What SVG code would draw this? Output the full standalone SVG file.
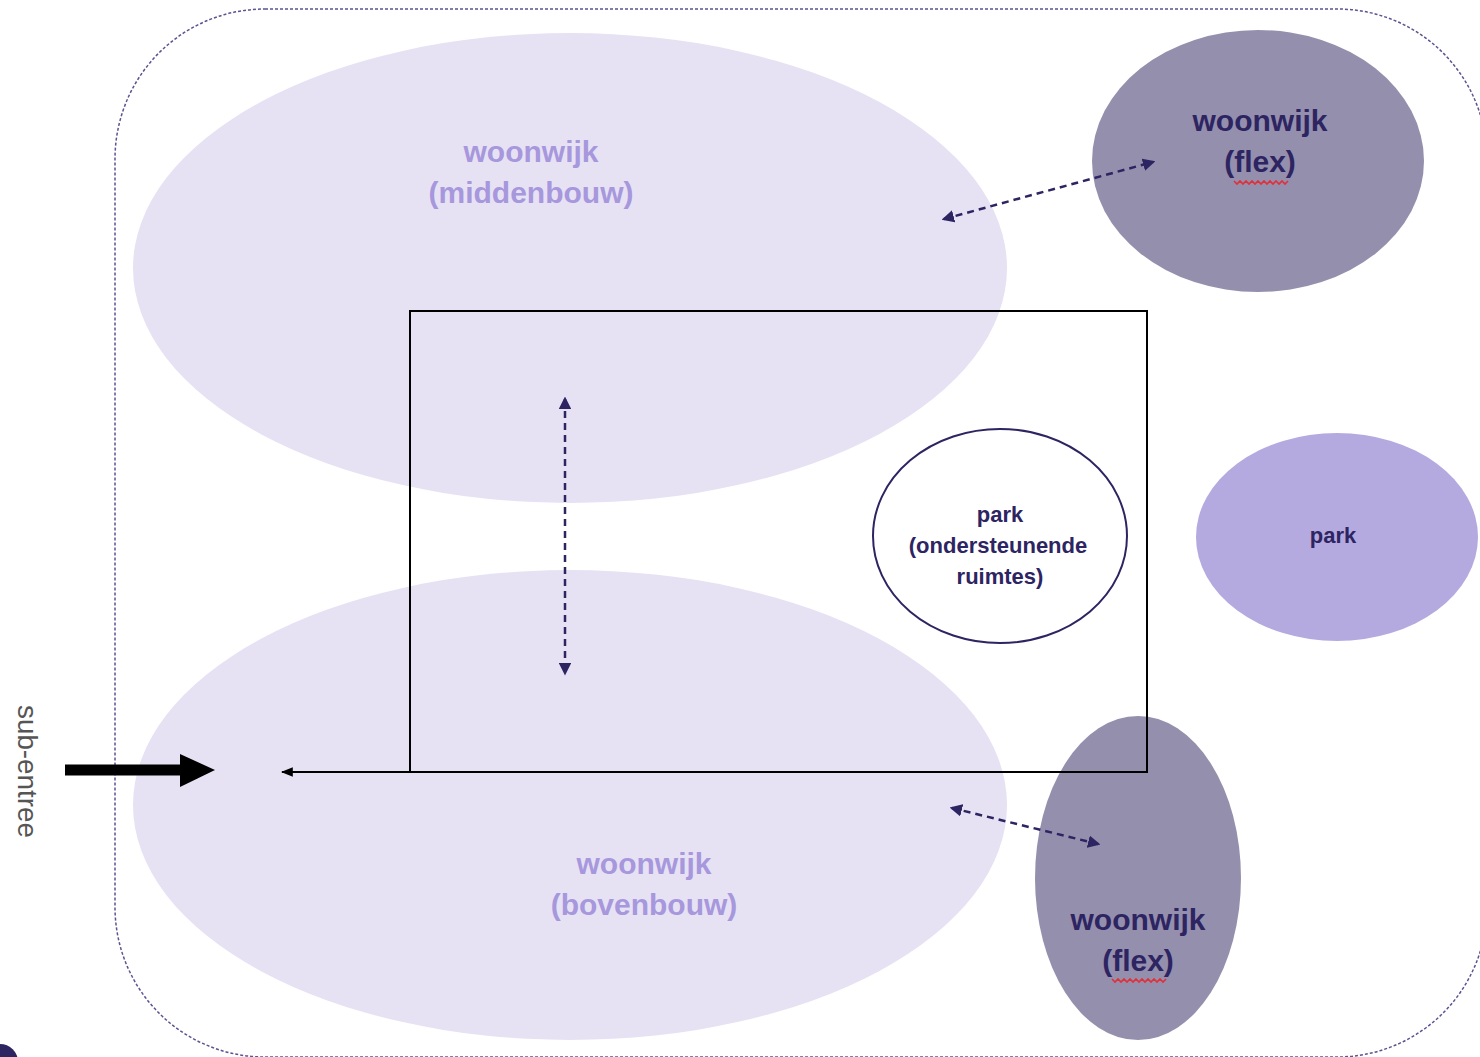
<svg xmlns="http://www.w3.org/2000/svg" width="1480" height="1057" viewBox="0 0 1480 1057">
<style>
.lbl{font-family:"Liberation Sans",Arial,sans-serif;font-weight:bold;text-anchor:middle}
.light{fill:#a797dc;font-size:30px}
.dark{fill:#2d2462;font-size:30px}
.small{fill:#2d2462;font-size:22px}
.dash{fill:none;stroke:#2d2462;stroke-width:2.5;stroke-dasharray:7 5;marker-start:url(#ah);marker-end:url(#ah)}
.squig{fill:none;stroke:#e0303a;stroke-width:1.6}
</style>
<defs>
<marker id="ah" viewBox="0 0 10 10" refX="8" refY="5" markerWidth="5" markerHeight="5" orient="auto-start-reverse" markerUnits="strokeWidth">
<path d="M0,0 L10,5 L0,10 Z" fill="#2d2462"/>
</marker>
<marker id="bh" viewBox="0 0 10 10" refX="9" refY="5" markerWidth="6" markerHeight="6" orient="auto" markerUnits="strokeWidth">
<path d="M0,1 L10,5 L0,9 Z" fill="#000"/>
</marker>
</defs>
<rect width="1480" height="1057" fill="#fff"/>
<rect id="boundary" x="115" y="9" width="1372" height="1048" rx="150" ry="150" fill="none" stroke="#5a5490" stroke-width="1.5" stroke-dasharray="3 2"/>
<g id="woonwijk-middenbouw">
<ellipse cx="570" cy="268" rx="437" ry="235" fill="#e6e2f4"/>
<text class="lbl light" x="531" y="162">woonwijk</text>
<text class="lbl light" x="531" y="203">(middenbouw)</text>
</g>
<g id="woonwijk-bovenbouw">
<ellipse cx="570" cy="805" rx="437" ry="235" fill="#e6e2f4"/>
<text class="lbl light" x="644" y="874">woonwijk</text>
<text class="lbl light" x="644" y="915">(bovenbouw)</text>
</g>
<g id="woonwijk-flex-top">
<ellipse cx="1258" cy="161" rx="166" ry="131" fill="#958fae"/>
<text class="lbl dark" x="1260" y="131">woonwijk</text>
<text class="lbl dark" x="1260" y="172">(flex)</text>
<path class="squig" d="M1234,181 l3,3 l3,-3 l3,3 l3,-3 l3,3 l3,-3 l3,3 l3,-3 l3,3 l3,-3 l3,3 l3,-3 l3,3 l3,-3 l3,3 l3,-3 l3,3 l3,-3"/>
</g>
<g id="woonwijk-flex-bottom">
<ellipse cx="1138" cy="878" rx="103" ry="162" fill="#958fae"/>
<text class="lbl dark" x="1138" y="930">woonwijk</text>
<text class="lbl dark" x="1138" y="971">(flex)</text>
<path class="squig" d="M1112,979 l3,3 l3,-3 l3,3 l3,-3 l3,3 l3,-3 l3,3 l3,-3 l3,3 l3,-3 l3,3 l3,-3 l3,3 l3,-3 l3,3 l3,-3 l3,3 l3,-3"/>
</g>
<g id="park-right">
<ellipse cx="1337" cy="537" rx="141" ry="104" fill="#b5aadf"/>
<text class="lbl small" x="1333" y="543">park</text>
</g>
<g id="connectors">
<path d="M410,772 V311 H1147 V772 H282" fill="none" stroke="#000" stroke-width="2" marker-end="url(#bh)"/>
<path d="M65,770 H182" stroke="#000" stroke-width="11" fill="none"/>
<path d="M180,754 L215,770 L180,787 Z" fill="#000"/>
<line class="dash" x1="944" y1="219" x2="1153" y2="162"/>
<line class="dash" x1="565" y1="399" x2="565" y2="673"/>
<line class="dash" x1="952" y1="808" x2="1098" y2="844"/>
</g>
<g id="park-ondersteunend">
<ellipse cx="1000" cy="536" rx="127" ry="107" fill="#fff" stroke="#2d2462" stroke-width="2"/>
<text class="lbl small" x="1000" y="522">park</text>
<text class="lbl small" x="998" y="553">(ondersteunende</text>
<text class="lbl small" x="1000" y="584">ruimtes)</text>
</g>
<g id="sub-entree">
<text x="14" y="705" transform="rotate(90 14 705)" font-family="Liberation Sans, Arial, sans-serif" font-size="27" fill="#555" textLength="133" lengthAdjust="spacingAndGlyphs" dy="-4">sub-entree</text>
</g>
<circle cx="0" cy="1062" r="18" fill="#2d2462"/>
</svg>
